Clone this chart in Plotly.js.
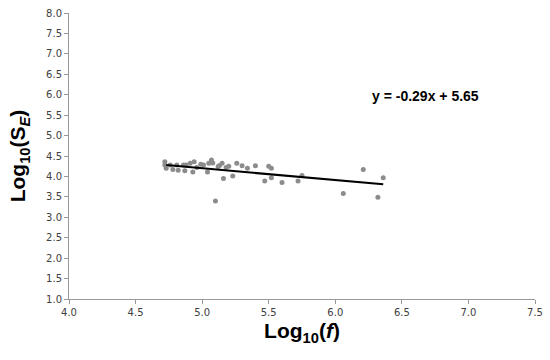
<!DOCTYPE html>
<html>
<head>
<meta charset="utf-8">
<script src="https://cdn.plot.ly/plotly-3.0.1.min.js"></script>
<style>
  html, body { margin: 0; padding: 0; background: #fff; }
  #plot { width: 550px; height: 360px; }
</style>
</head>
<body>
<div id="plot"></div>
<script>
// observed points, log10(f) vs log10(SE)
const logF = [4.72, 4.72, 4.73, 4.76, 4.78, 4.81, 4.82, 4.86, 4.87, 4.88,
              4.91, 4.93, 4.94, 4.96, 5.01, 5.04, 5.05, 5.07, 5.08, 5.10,
              5.12, 5.15, 5.16, 5.20, 5.23, 5.26, 5.30, 5.34, 5.40, 5.47,
              5.50, 5.52, 5.52, 5.60, 5.72, 5.75, 6.06, 6.21, 6.32, 6.36,
              4.99, 5.18, 5.13];
const logSE = [4.36, 4.28, 4.20, 4.28, 4.17, 4.28, 4.15, 4.28, 4.14, 4.28,
               4.32, 4.11, 4.36, 4.22, 4.28, 4.11, 4.32, 4.40, 4.33, 3.40,
               4.24, 4.32, 3.95, 4.25, 4.01, 4.32, 4.26, 4.20, 4.26, 3.89,
               4.25, 4.20, 3.97, 3.85, 3.89, 4.02, 3.58, 4.17, 3.49, 3.97,
               4.30, 4.22, 4.27];

// linear trend as printed on the chart
const slope = -0.29;
const intercept = 5.65;
const trendX = [4.73, 6.36];
const trendY = trendX.map(x => slope * x + intercept);

const xTicks = [4.0, 4.5, 5.0, 5.5, 6.0, 6.5, 7.0, 7.5];
const yTicks = [1.0, 1.5, 2.0, 2.5, 3.0, 3.5, 4.0, 4.5, 5.0, 5.5, 6.0, 6.5, 7.0, 7.5, 8.0];

const points = {
    x: logF,
    y: logSE,
    mode: 'markers',
    type: 'scatter',
    marker: { size: 5, color: '#8c8c8c' },
    hoverinfo: 'skip'
};

const trend = {
    x: trendX,
    y: trendY,
    mode: 'lines',
    type: 'scatter',
    line: { color: '#000', width: 2 },
    hoverinfo: 'skip'
};

const tickFont = { family: 'DejaVu Sans', size: 10, color: '#404040' };
const titleFont = { family: 'Liberation Sans, Arial', size: 21, color: '#000', weight: 'bold' };

const layout = {
    width: 550,
    height: 360,
    margin: { l: 69, r: 15, t: 13, b: 61 },
    showlegend: false,
    paper_bgcolor: '#fff',
    plot_bgcolor: '#fff',
    xaxis: {
        range: [4.0, 7.5],
        tickvals: xTicks,
        ticktext: xTicks.map(v => v.toFixed(1)),
        showgrid: false,
        zeroline: false,
        showline: true,
        linecolor: '#999',
        linewidth: 1,
        ticks: 'outside',
        ticklen: 4,
        tickcolor: '#999',
        tickfont: tickFont,
        title: { text: '<b>Log<sub>10</sub>(<i>f</i>)</b>', font: titleFont, standoff: 6 }
    },
    yaxis: {
        range: [1.0, 8.0],
        tickvals: yTicks,
        ticktext: yTicks.map(v => v.toFixed(1)),
        showgrid: false,
        zeroline: false,
        showline: true,
        linecolor: '#999',
        linewidth: 1,
        ticks: 'outside',
        ticklen: 4,
        tickcolor: '#999',
        tickfont: tickFont,
        title: { text: '<b>Log<sub>10</sub>(S<sub><i>E</i></sub>)</b>', font: titleFont, standoff: 14 }
    },
    annotations: [{
        x: 6.68,
        y: 5.96,
        xref: 'x',
        yref: 'y',
        text: '<b>y = -0.29x + 5.65</b>',
        showarrow: false,
        font: { family: 'Liberation Sans, Arial', size: 14, color: '#000' }
    }]
};

Plotly.newPlot('plot', [points, trend], layout, { displayModeBar: false, staticPlot: true });
</script>
</body>
</html>
